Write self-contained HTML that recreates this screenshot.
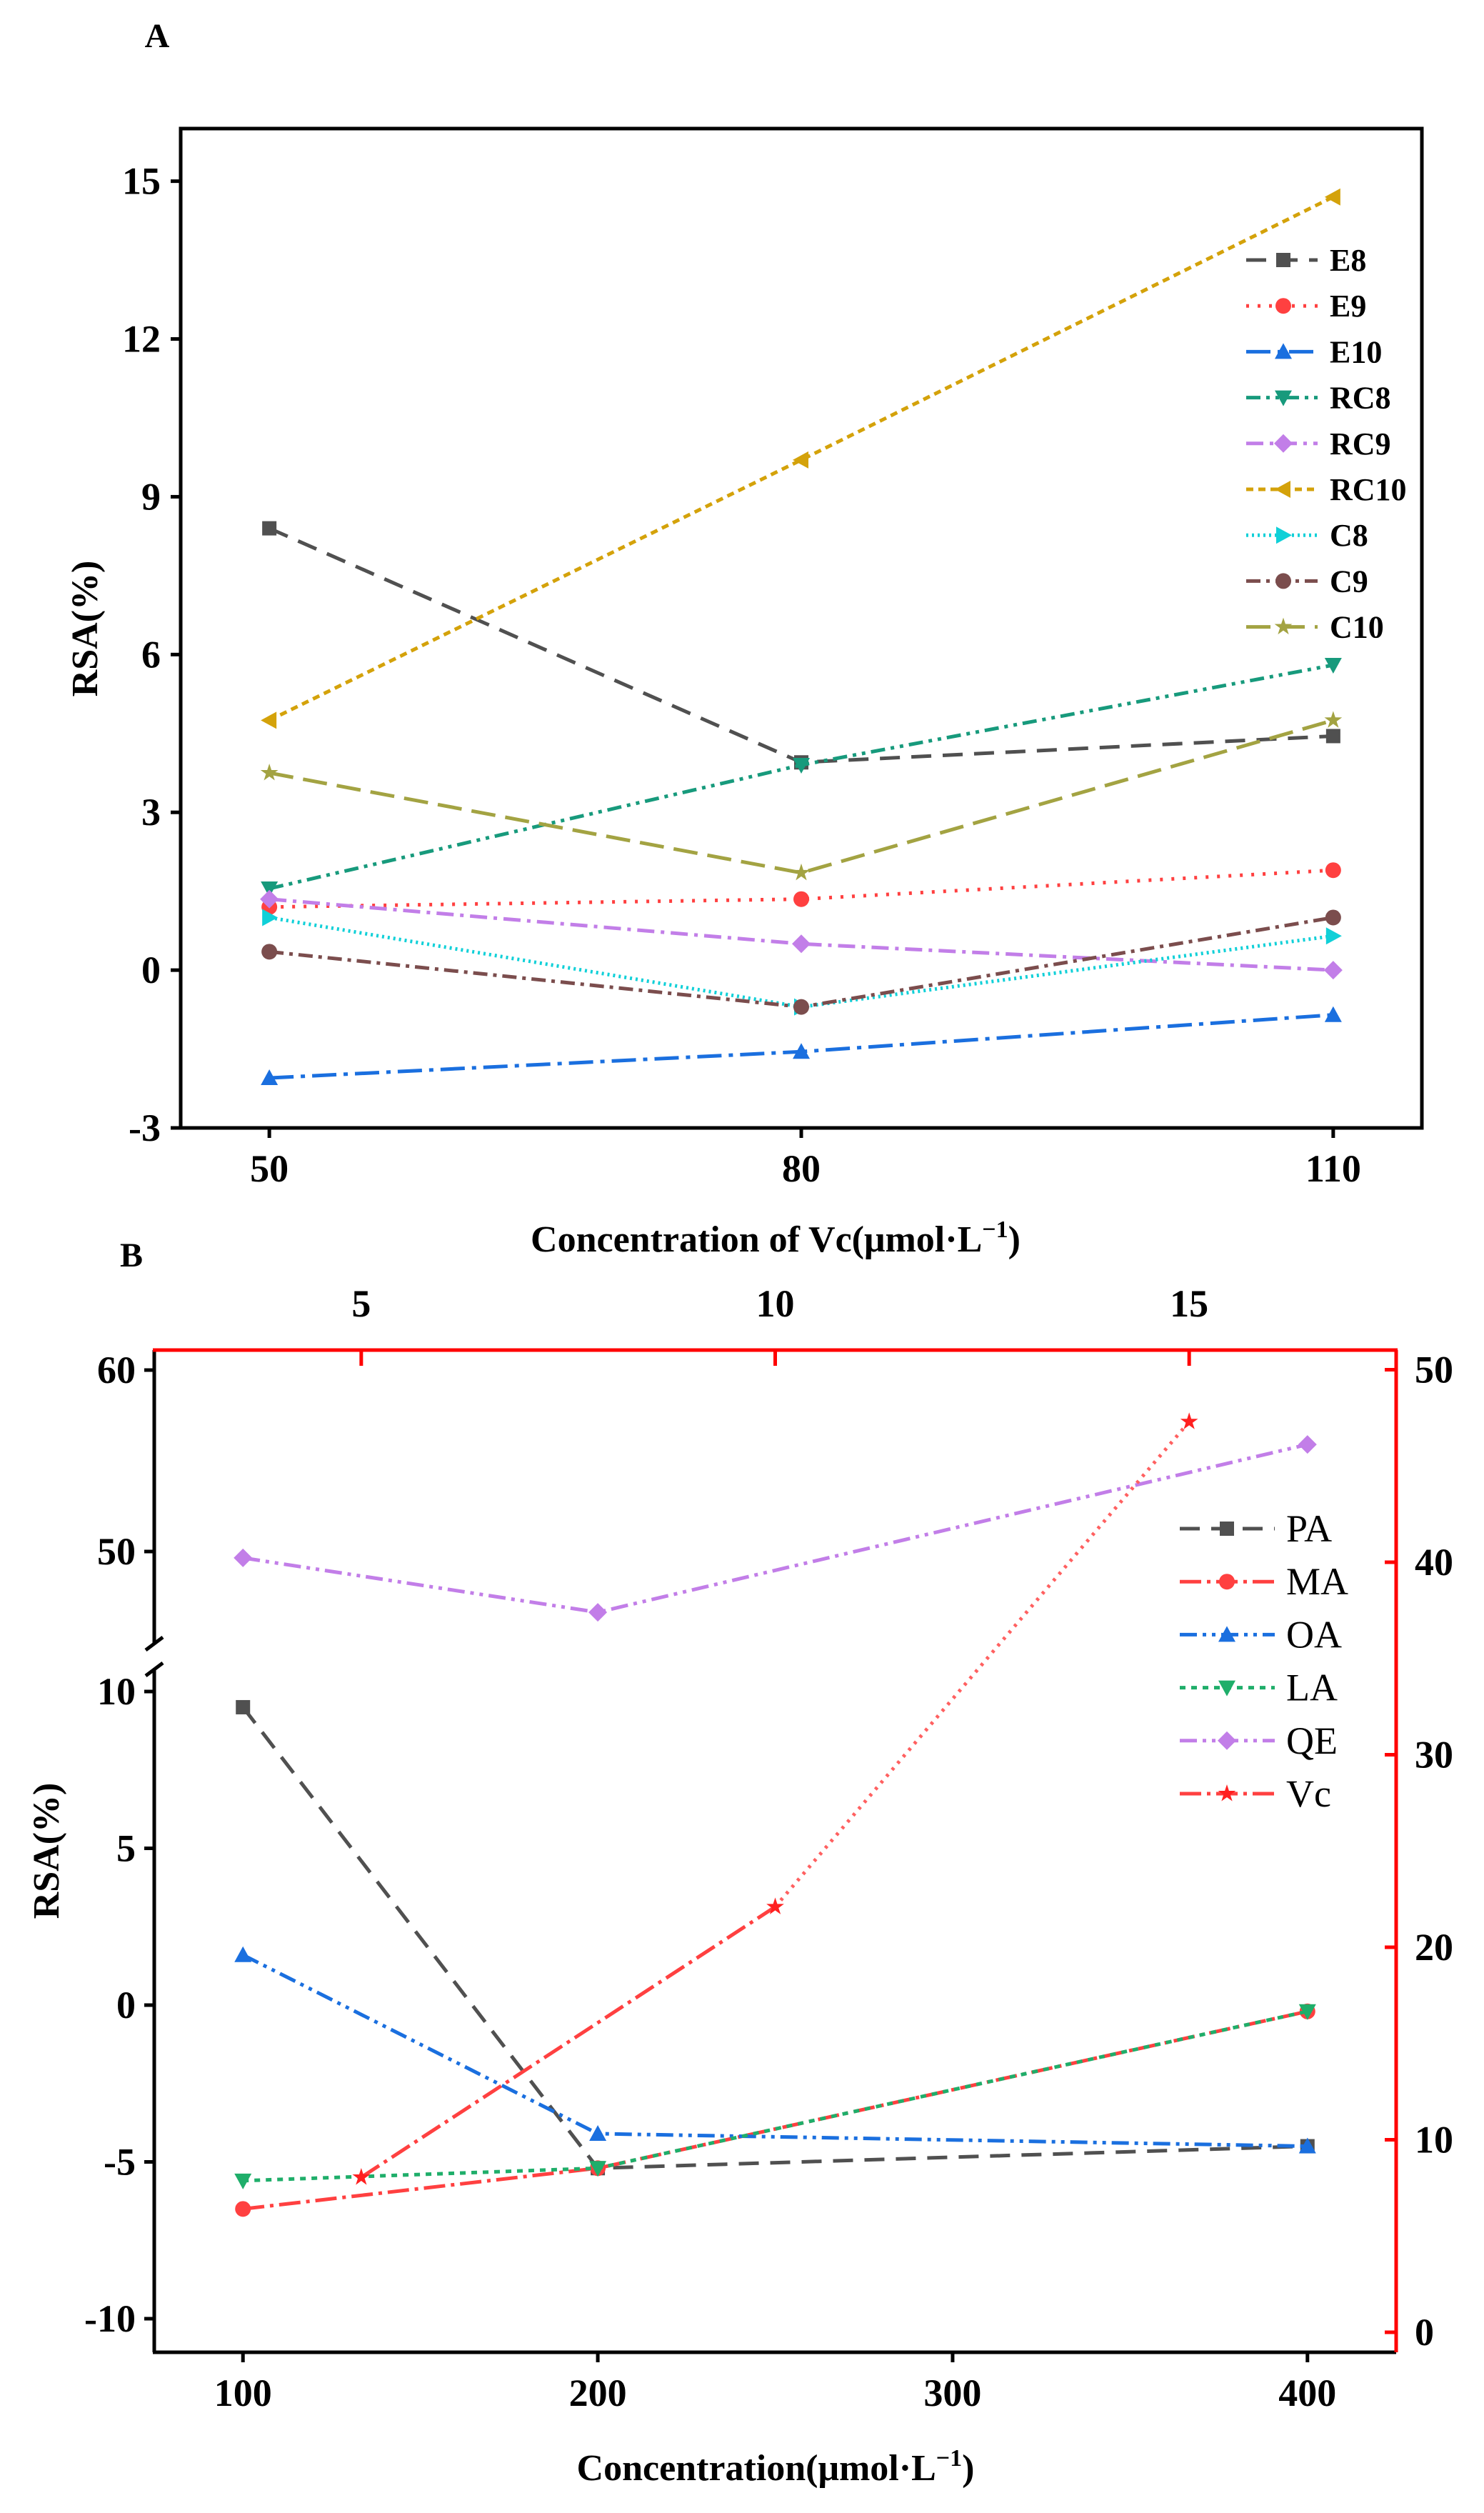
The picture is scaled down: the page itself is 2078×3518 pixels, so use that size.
<!DOCTYPE html>
<html><head><meta charset="utf-8">
<style>
html,body{margin:0;padding:0;background:#fff;}
svg{display:block;font-family:"Liberation Serif",serif;}
</style></head>
<body>
<svg id="fig" width="2078" height="3518" viewBox="0 0 2078 3518" xmlns="http://www.w3.org/2000/svg"></svg>
<script>
// ---- Panel A data ----
const aCats = [50, 80, 110];
const aNames = ["E8","E9","E10","RC8","RC9","RC10","C8","C9","C10"];
const aE8 = [8.4, 3.95, 4.45];
const aE9 = [1.2, 1.35, 1.9];
const aE10 = [-2.05, -1.55, -0.85];
const aRC8 = [1.55, 3.9, 5.8];
const aRC9 = [1.35, 0.5, 0.0];
const aRC10 = [4.75, 9.7, 14.7];
const aC8 = [1.0, -0.7, 0.65];
const aC9 = [0.35, -0.7, 1.0];
const aC10 = [3.75, 1.85, 4.75];
const aYTicks = [-3, 0, 3, 6, 9, 12, 15];
// ---- Panel B data ----
const bCats = [100, 200, 400];
const bXTicks = [100, 200, 300, 400];
const bNames = ["PA","MA","OA","LA","QE","Vc"];
const bPA = [9.5, -5.2, -4.5];
const bMA = [-6.5, -5.2, -0.2];
const bOA = [1.6, -4.1, -4.5];
const bLA = [-5.6, -5.2, -0.2];
const bQE = [49.65, 46.65, 55.9];
const vcCats = [5, 10, 15];
const vcVals = [8.05, 22.1, 47.3];
const bYLowTicks = [-10, -5, 0, 5, 10];
const bYHighTicks = [50, 60];
const bTopTicks = [5, 10, 15];
const bRightTicks = [0, 10, 20, 30, 40, 50];

const svg = document.getElementById('fig');
const NS = "http://www.w3.org/2000/svg";
const LW = 5;
const FS = 54;
function el(tag, attrs, parent){
  const e = document.createElementNS(NS, tag);
  for (const k in attrs) e.setAttribute(k, attrs[k]);
  (parent||svg).appendChild(e);
  return e;
}
function txt(s, x, y, size, anchor, weight, parent, fill){
  const t = el('text', {x:x, y:y, 'font-size':size, 'text-anchor':anchor||'middle', 'font-weight':weight||'bold', fill:fill||'#000'}, parent);
  t.textContent = s;
  return t;
}
function marker(type, x, y, color, parent){
  const s = 10;
  let m;
  if (type==='square') m = el('rect',{x:x-s,y:y-s,width:2*s,height:2*s,fill:color},parent);
  else if (type==='circle') m = el('circle',{cx:x,cy:y,r:s+1,fill:color},parent);
  else {
    let pts;
    if (type==='up') pts=[[x,y-s-2],[x+s+2,y+s],[x-s-2,y+s]];
    else if (type==='down') pts=[[x,y+s+2],[x+s+2,y-s],[x-s-2,y-s]];
    else if (type==='diamond') pts=[[x,y-s-3],[x+s+3,y],[x,y+s+3],[x-s-3,y]];
    else if (type==='left') pts=[[x-s-2,y],[x+s,y-s-2],[x+s,y+s+2]];
    else if (type==='right') pts=[[x+s+2,y],[x-s,y-s-2],[x-s,y+s+2]];
    else { pts=[]; for(let i=0;i<10;i++){const r=i%2?5:13;const a=-Math.PI/2+i*Math.PI/5;pts.push([x+r*Math.cos(a),y+r*Math.sin(a)]);} }
    m = el('polygon',{points:pts.map(p=>p.join(',')).join(' '),fill:color},parent);
  }
  
  
  return m;
}

// ================= Panel A =================
const A = {l:253, r:1991, t:180, b:1579, xmin:45, xmax:115, ymin:-3, ymax:16};
const ax = v => A.l + (v-A.xmin)/(A.xmax-A.xmin)*(A.r-A.l);
const ay = v => A.b - (v-A.ymin)/(A.ymax-A.ymin)*(A.b-A.t);
const gA = el('g', {});


const lblA = txt('A', 220, 66, 48, 'middle', 'bold', gA);



const aSeries = [
  {n:aNames[0], v:aE8, c:'#505050', d:'28,16', m:'square'},
  {n:aNames[1], v:aE9, c:'#ff4040', d:'4,12', m:'circle'},
  {n:aNames[2], v:aE10, c:'#1a6fdf', d:'34,10,6,10', m:'up'},
  {n:aNames[3], v:aRC8, c:'#179a7c', d:'20,8,5,8,5,8', m:'down'},
  {n:aNames[4], v:aRC9, c:'#c27ee8', d:'24,9,5,9', m:'diamond'},
  {n:aNames[5], v:aRC10, c:'#d4a20a', d:'10,7', m:'left'},
  {n:aNames[6], v:aC8, c:'#10d0d8', d:'3,5', m:'right'},
  {n:aNames[7], v:aC9, c:'#7b4d4d', d:'20,8,5,8', m:'circle'},
  {n:aNames[8], v:aC10, c:'#a3a342', d:'34,14', m:'star'}
];
aSeries.forEach((s)=>{
  const g = el('g',{},gA);
  
  
  const pts = aCats.map((c,i)=>ax(c)+','+ay(s.v[i])).join(' ');
  const pl = el('polyline',{points:pts,fill:'none',stroke:s.c,'stroke-width':LW,'stroke-dasharray':s.d},g);
  
  
  aCats.forEach((c,i)=>marker(s.m, ax(c), ay(s.v[i]), s.c, g));
});
const frA = el('rect',{x:A.l,y:A.t,width:A.r-A.l,height:A.b-A.t,fill:'none',stroke:'#000','stroke-width':5},gA);


aYTicks.forEach(v=>{
  el('line',{x1:A.l-14,x2:A.l,y1:ay(v),y2:ay(v),stroke:'#000','stroke-width':5},gA);
  const t = txt(String(v), A.l-28, ay(v)+18, FS, 'end', 'bold', gA);
  
  
});
aCats.forEach(v=>{
  el('line',{x1:ax(v),x2:ax(v),y1:A.b,y2:A.b+14,stroke:'#000','stroke-width':5},gA);
  const t = txt(String(v), ax(v), 1654, FS, 'middle', 'bold', gA);
  
  
});
const yTitA = txt('RSA(%)', 0, 0, 52, 'middle', 'bold', gA);
yTitA.setAttribute('transform','translate(136,880) rotate(-90)');


const xTitA = el('text',{x:1086,y:1752,'font-size':52,'text-anchor':'middle','font-weight':'bold'},gA);
xTitA.innerHTML = 'Concentration of Vc(μmol·L<tspan dy="-20" font-size="34">−1</tspan><tspan dy="20">)</tspan>';


const legA = el('g',{},gA);


aSeries.forEach((s,i)=>{
  const y = 364 + i*64.2;
  const g = el('g',{},legA);
  
  
  el('line',{x1:1745,x2:1845,y1:y,y2:y,stroke:s.c,'stroke-width':LW,'stroke-dasharray':s.d},g);
  marker(s.m, 1797, y, s.c, g);
  txt(s.n, 1862, y+15, 44, 'start', 'bold', g);
});

// ================= Panel B =================
const B = {l:216, r:1955, t:1890, b:3293};
const bx = v => B.l + (v-75)/(425-75)*(B.r-B.l);
const byLow = v => 2807 - v*43.9;
const byHigh = v => 2172 - (v-50)*25.4;
const tx = v => B.l + (v-2.5)/(17.5-2.5)*(B.r-B.l);
const ry = v => 3265 - v*26.95;
const gB = el('g',{});


const lblB = txt('B', 184, 1773, 48, 'middle', 'bold', gB);



const bSeries = [
  {n:bNames[0], v:bPA, c:'#505050', d:'28,16', m:'square', hi:false},
  {n:bNames[1], v:bMA, c:'#ff4040', d:'30,8,5,8', m:'circle', hi:false},
  {n:bNames[2], v:bOA, c:'#1a6fdf', d:'24,8,5,8,5,8', m:'up', hi:false},
  {n:bNames[3], v:bLA, c:'#1fae6a', d:'8,8', m:'down', hi:false},
  {n:bNames[4], v:bQE, c:'#c27ee8', d:'24,8,5,8,5,8', m:'diamond', hi:true}
];
bSeries.forEach(s=>{
  const g = el('g',{},gB);
  
  
  const fy = s.hi ? byHigh : byLow;
  const pl = el('polyline',{points:bCats.map((c,i)=>bx(c)+','+fy(s.v[i])).join(' '),fill:'none',stroke:s.c,'stroke-width':LW,'stroke-dasharray':s.d},g);
  
  
  bCats.forEach((c,i)=>marker(s.m, bx(c), fy(s.v[i]), s.c, g));
});
const gVc = el('g',{},gB);


for (let i=0;i<vcCats.length-1;i++){
  const seg = el('line',{x1:tx(vcCats[i]),y1:ry(vcVals[i]),x2:tx(vcCats[i+1]),y2:ry(vcVals[i+1]),stroke:i===0?'#ff4040':'#ff6060','stroke-width':LW,'stroke-dasharray':i===0?'30,8,5,8':'4,8'},gVc);
  
  
}
vcCats.forEach((c,i)=>marker('star', tx(c), ry(vcVals[i]), '#ff2020', gVc));

const axL1 = el('line',{x1:B.l,x2:B.l,y1:B.t,y2:2300,stroke:'#000','stroke-width':5},gB);


const axL2 = el('line',{x1:B.l,x2:B.l,y1:2338,y2:B.b,stroke:'#000','stroke-width':5},gB);


el('line',{x1:B.l-12,y1:2310,x2:B.l+12,y2:2292,stroke:'#000','stroke-width':5},gB);
el('line',{x1:B.l-12,y1:2346,x2:B.l+12,y2:2328,stroke:'#000','stroke-width':5},gB);
const axBot = el('line',{x1:B.l-2,x2:B.r,y1:B.b,y2:B.b,stroke:'#000','stroke-width':5},gB);


const axTop = el('line',{x1:B.l-2,x2:B.r+2,y1:B.t,y2:B.t,stroke:'#ff0000','stroke-width':5},gB);


const axR = el('line',{x1:B.r,x2:B.r,y1:B.t,y2:B.b,stroke:'#ff0000','stroke-width':5},gB);



bYLowTicks.forEach(v=>{
  el('line',{x1:B.l-14,x2:B.l,y1:byLow(v),y2:byLow(v),stroke:'#000','stroke-width':5},gB);
  const t = txt(String(v), B.l-26, byLow(v)+18, FS, 'end', 'bold', gB);
  
  
});
bYHighTicks.forEach(v=>{
  el('line',{x1:B.l-14,x2:B.l,y1:byHigh(v),y2:byHigh(v),stroke:'#000','stroke-width':5},gB);
  const t = txt(String(v), B.l-26, byHigh(v)+18, FS, 'end', 'bold', gB);
  
  
});
bXTicks.forEach(v=>{
  el('line',{x1:bx(v),x2:bx(v),y1:B.b,y2:B.b+14,stroke:'#000','stroke-width':5},gB);
  const t = txt(String(v), bx(v), 3368, FS, 'middle', 'bold', gB);
  
  
});
bTopTicks.forEach(v=>{
  el('line',{x1:tx(v),x2:tx(v),y1:B.t,y2:B.t+22,stroke:'#ff0000','stroke-width':5},gB);
  const t = txt(String(v), tx(v), 1843, FS, 'middle', 'bold', gB);
  
  
});
bRightTicks.forEach(v=>{
  el('line',{x1:B.r-16,x2:B.r,y1:ry(v),y2:ry(v),stroke:'#ff0000','stroke-width':5},gB);
  const t = txt(String(v), B.r+26, ry(v)+18, FS, 'start', 'bold', gB);
  
  
});
const yTitB = txt('RSA(%)', 0, 0, 52, 'middle', 'bold', gB);
yTitB.setAttribute('transform','translate(82,2591) rotate(-90)');


const xTitB = el('text',{x:1086,y:3472,'font-size':52,'text-anchor':'middle','font-weight':'bold'},gB);
xTitB.innerHTML = 'Concentration(μmol·L<tspan dy="-20" font-size="34">−1</tspan><tspan dy="20">)</tspan>';



const legB = el('g',{},gB);


const vcLeg = {n:bNames[5], c:'#ff4040', d:'30,8,5,8', m:'star'};
bSeries.concat([vcLeg]).forEach((s,i)=>{
  const y = 2140 + i*74.2;
  const g = el('g',{},legB);
  
  
  el('line',{x1:1652,x2:1785,y1:y,y2:y,stroke:s.c,'stroke-width':LW,'stroke-dasharray':s.d},g);
  marker(s.m, 1718, y, s.m==='star'?'#ff2020':s.c, g);
  txt(s.n, 1801, y+18, 54, 'start', 'normal', g);
});
</script>
</body></html>
